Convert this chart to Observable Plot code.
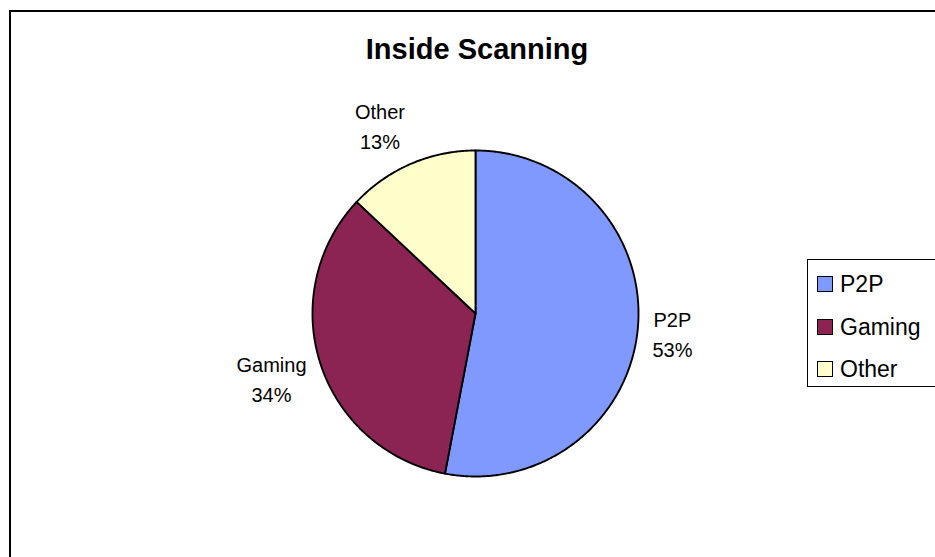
<!DOCTYPE html>
<html><head><meta charset="utf-8">
<script src="https://cdn.jsdelivr.net/npm/d3@7"></script>
<script src="https://cdn.jsdelivr.net/npm/@observablehq/plot@0.6"></script>
<style>
html,body{margin:0;padding:0;background:#fff;}
body{font-family:"Liberation Sans",Arial,Helvetica,sans-serif;}
#wrap{position:relative;width:935px;height:557px;overflow:hidden;}
#chart{position:absolute;left:0;top:0;}
#border{position:absolute;left:9px;top:10px;width:1000px;height:700px;border:2px solid #000;box-sizing:border-box;}
#title{position:absolute;left:0;top:34.5px;width:954px;text-align:center;font-weight:bold;font-size:29px;line-height:29px;color:#000;}
#legend{position:absolute;left:807px;top:259px;width:200px;height:128px;border:1px solid #000;box-sizing:border-box;background:#fff;}
.row{position:absolute;left:9px;height:24px;display:flex;align-items:center;font-size:23px;line-height:24px;color:#000;white-space:nowrap;}
.sw{width:16px;height:16px;border:1.5px solid #000;box-sizing:border-box;margin-right:7px;flex:none;}
</style>
</head><body>
<div id="wrap">
  <div id="chart"></div>
  <div id="border"></div>
  <div id="title"></div>
  <div id="legend"></div>
</div>
<script>
const title = "Inside Scanning";
const categories = ["P2P", "Gaming", "Other"];
const values = [53, 34, 13];
const palette = ["#8099ff", "#8b2452", "#ffffcc"];

const W = 935, H = 557;
const mL = 312, mR = 297, mT = 150, mB = 81;
const R = (W - mL - mR) / 2; // pixel radius

const total = d3.sum(values);
const pie = d3.pie().sort(null).value(d => d.value)(
  categories.map((name, i) => ({name, value: values[i]}))
);

// polygon points per slice (angles clockwise from 12 o'clock)
const pts = [];
for (const s of pie) {
  const name = s.data.name;
  pts.push({name, x: 0, y: 0});
  const n = Math.max(2, Math.ceil((s.endAngle - s.startAngle) / (Math.PI / 360)));
  for (let k = 0; k <= n; k++) {
    const a = s.startAngle + (s.endAngle - s.startAngle) * k / n;
    pts.push({name, x: Math.sin(a), y: Math.cos(a)});
  }
  pts.push({name, x: 0, y: 0});
}

// label positions: outside the pie, offset by half the text box
const ctx = document.createElement("canvas").getContext("2d");
ctx.font = '20px "Liberation Sans", Arial, sans-serif';
const labels = pie.map(s => {
  const a = (s.startAngle + s.endAngle) / 2;
  const sx = Math.sin(a), cy = Math.cos(a);
  const pct = Math.round(s.data.value / total * 100) + "%";
  const lines = [s.data.name, pct];
  const hw = d3.max(lines, t => ctx.measureText(t).width) / 2;
  const hh = 28;
  const r0 = 1.09 * R;
  const px = sx * r0 + Math.sign(sx) * hw;
  const py = cy * r0 + cy * hh;
  return {x: px / R, y: py / R, text: lines.join("\n")};
});

const chart = Plot.plot({
  width: W, height: H,
  marginLeft: mL, marginRight: mR, marginTop: mT, marginBottom: mB,
  x: {domain: [-1, 1], axis: null},
  y: {domain: [-1, 1], axis: null},
  color: {domain: categories, range: palette},
  style: {background: "transparent", fontFamily: '"Liberation Sans", Arial, sans-serif'},
  marks: [
    Plot.line(pts, {x: "x", y: "y", z: "name", fill: "name", stroke: "#000", strokeWidth: 1.9, strokeLinejoin: "round"}),
    Plot.text(labels, {x: "x", y: "y", text: "text", fontSize: 20, lineHeight: 1.5, textAnchor: "middle", lineAnchor: "middle", fill: "#000"})
  ]
});
document.getElementById("chart").appendChild(chart);

document.getElementById("title").textContent = title;

const legend = document.getElementById("legend");
categories.forEach((c, i) => {
  const row = document.createElement("div");
  row.className = "row";
  row.style.top = (24 + 42.5 * i - 12) + "px";
  const sw = document.createElement("div");
  sw.className = "sw";
  sw.style.background = palette[i];
  const t = document.createElement("span");
  t.textContent = c;
  row.appendChild(sw); row.appendChild(t);
  legend.appendChild(row);
});
</script>
</body></html>
